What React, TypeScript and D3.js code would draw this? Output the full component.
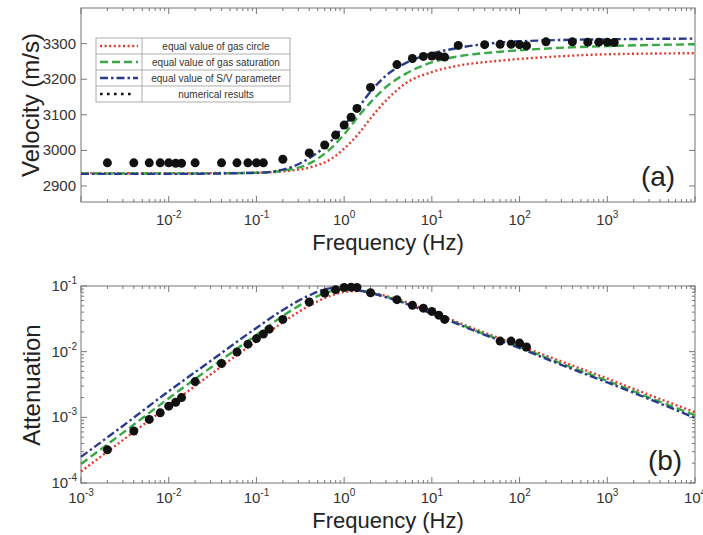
import React from 'react';
import * as d3 from 'd3';

// velocity curves (top panel)
const velFreq = [0.001, 0.01, 0.1, 0.2, 0.4, 0.7, 1, 1.5, 2, 3, 5, 10, 20, 60, 200, 1000, 10000];
const velCircle = [2936, 2936, 2937, 2941, 2952, 2975, 3005, 3050, 3090, 3140, 3188, 3220, 3238, 3252, 3262, 3270, 3273];
const velSaturation = [2935, 2935, 2937, 2943, 2963, 3005, 3045, 3100, 3135, 3178, 3215, 3247, 3264, 3277, 3286, 3293, 3298];
const velSV = [2934, 2934, 2937, 2946, 2978, 3025, 3070, 3125, 3165, 3210, 3245, 3272, 3288, 3303, 3309, 3312, 3314];

const velPtFreq = [0.002, 0.004, 0.006, 0.008, 0.01, 0.012, 0.014, 0.02, 0.04, 0.06, 0.08, 0.1, 0.12, 0.2, 0.4, 0.6, 0.8, 1, 1.2, 1.4, 2, 4, 6, 8, 10, 12, 14, 20, 40, 60, 80, 100, 120, 200, 400, 600, 800, 1000, 1200];
const velPtVal = [2965, 2965, 2965, 2965, 2965, 2964, 2964, 2965, 2965, 2965, 2965, 2965, 2965, 2975, 2993, 3015, 3043, 3071, 3093, 3118, 3177, 3241, 3258, 3264, 3265, 3265, 3262, 3295, 3297, 3298, 3298, 3297, 3294, 3305, 3305, 3304, 3304, 3304, 3303];

// attenuation curves (bottom panel)
const attFreq = [0.001, 0.003, 0.01, 0.03, 0.1, 0.2, 0.4, 0.7, 1, 1.5, 2, 4, 10, 30, 100, 300, 1000, 3000, 10000];
const attCircle = [1.5e-4, 4.5e-4, 1.5e-3, 4.5e-3, 0.0145, 0.028, 0.05, 0.071, 0.081, 0.084, 0.08, 0.063, 0.04, 0.0225, 0.0123, 0.0071, 0.0039, 0.0022, 0.0012];
const attSaturation = [1.95e-4, 5.8e-4, 1.95e-3, 5.7e-3, 0.018, 0.035, 0.061, 0.083, 0.089, 0.086, 0.079, 0.061, 0.039, 0.0215, 0.0117, 0.0066, 0.0036, 0.002, 0.00108];
const attSV = [2.5e-4, 7.4e-4, 2.5e-3, 7.2e-3, 0.023, 0.043, 0.072, 0.092, 0.093, 0.085, 0.078, 0.06, 0.038, 0.021, 0.0113, 0.0063, 0.0034, 0.0019, 0.00098];

const attPtFreq = [0.002, 0.004, 0.006, 0.008, 0.01, 0.012, 0.014, 0.02, 0.04, 0.06, 0.08, 0.1, 0.12, 0.14, 0.2, 0.4, 0.6, 0.8, 1, 1.2, 1.4, 2, 4, 6, 8, 10, 12, 14, 60, 80, 100, 120];
const attPtVal = [3.2e-4, 6.2e-4, 9.3e-4, 1.17e-3, 1.48e-3, 1.7e-3, 2.0e-3, 3.5e-3, 6.6e-3, 9.9e-3, 0.013, 0.0158, 0.0185, 0.022, 0.031, 0.057, 0.078, 0.088, 0.095, 0.096, 0.095, 0.079, 0.062, 0.051, 0.046, 0.041, 0.036, 0.031, 0.0145, 0.0145, 0.0135, 0.0118];

const velTicks = [2900, 3000, 3100, 3200, 3300];
const legendLabels = ['equal value of gas circle', 'equal value of gas saturation', 'equal value of S/V parameter', 'numerical results'];

const FONT = '"Liberation Sans", Arial, Helvetica, sans-serif';
const seriesStyle = [
  { color: '#e23b2e', dash: '2 2.6', width: 2.4 },
  { color: '#3aa845', dash: '8 4', width: 2.4 },
  { color: '#2b3b8c', dash: '8 3 2.5 3', width: 2.4 },
];

const L = 81, R = 695;
const x = d3.scaleLog().domain([1e-3, 1e4]).range([L, R]);
const yVel = d3.scaleLinear().domain([2855, 3400]).range([202, 8]);
const yAtt = d3.scaleLog().domain([1e-4, 1e-1]).range([483, 286]);

const decades = d3.range(-3, 5).map((e) => Math.pow(10, e));
const minorX = decades.slice(0, -1).flatMap((d) => d3.range(2, 10).map((k) => d * k));
const attDecades = [1e-4, 1e-3, 1e-2, 1e-1];
const minorY = attDecades.slice(0, -1).flatMap((d) => d3.range(2, 10).map((k) => d * k));

const Pow = ({ px, py, exp, anchor }: { px: number; py: number; exp: number; anchor: string }) => (
  <text x={px} y={py} textAnchor={anchor} fontSize={15} fill="#333">
    <tspan>10</tspan>
    <tspan dy={-7} fontSize={10}>{exp}</tspan>
  </text>
);

const lineFor = (freq: number[], yScale: any) =>
  d3.line<number>()
    .x((_, i) => x(freq[i]))
    .y((d) => yScale(d))
    .curve(d3.curveMonotoneX);

const App = () => {
  const top = { y0: 8, y1: 202 };
  const bot = { y0: 286, y1: 483 };
  const velSeries = [velCircle, velSaturation, velSV];
  const attSeries = [attCircle, attSaturation, attSV];
  const tc = '#777';

  const xTicks = (p: { y0: number; y1: number }) => (
    <g stroke={tc} strokeWidth={1}>
      {decades.map((d) => (
        <g key={'M' + d}>
          <line x1={x(d)} x2={x(d)} y1={p.y1} y2={p.y1 - 6} />
          <line x1={x(d)} x2={x(d)} y1={p.y0} y2={p.y0 + 6} />
        </g>
      ))}
      {minorX.map((d) => (
        <g key={'m' + d}>
          <line x1={x(d)} x2={x(d)} y1={p.y1} y2={p.y1 - 3} />
          <line x1={x(d)} x2={x(d)} y1={p.y0} y2={p.y0 + 3} />
        </g>
      ))}
    </g>
  );

  return (
    <div style={{ position: 'absolute', left: 0, top: 0 }}>
      <svg width={703} height={535} style={{ display: 'block', background: '#fff' }} fontFamily={FONT}>
        {/* ---------- top panel ---------- */}
        <rect x={L} y={top.y0} width={R - L} height={top.y1 - top.y0} fill="none" stroke={tc} />
        {xTicks(top)}
        <g stroke={tc}>
          {velTicks.map((v) => (
            <g key={v}>
              <line x1={L} x2={L + 6} y1={yVel(v)} y2={yVel(v)} />
              <line x1={R} x2={R - 6} y1={yVel(v)} y2={yVel(v)} />
            </g>
          ))}
        </g>
        {velTicks.map((v) => (
          <text key={v} x={76} y={yVel(v) + 5} textAnchor="end" fontSize={15} fill="#333">{v}</text>
        ))}
        {decades.slice(1, -1).map((d) => (
          <Pow key={d} px={x(d)} py={225} exp={Math.round(Math.log10(d))} anchor="middle" />
        ))}
        {velSeries.map((s, i) => (
          <path key={i} d={lineFor(velFreq, yVel)(s) || ''} fill="none" stroke={seriesStyle[i].color}
            strokeWidth={seriesStyle[i].width} strokeDasharray={seriesStyle[i].dash} />
        ))}
        {velPtFreq.map((f, i) => (
          <circle key={i} cx={x(f)} cy={yVel(velPtVal[i])} r={4.5} fill="#111" />
        ))}
        <text transform="translate(39,105) rotate(-90)" textAnchor="middle" fontSize={24} fill="#222">Velocity (m/s)</text>
        <text x={(L + R) / 2} y={250} textAnchor="middle" fontSize={22} fill="#222">Frequency (Hz)</text>
        <text x={658} y={186} textAnchor="middle" fontSize={28} fill="#222">(a)</text>

        {/* legend */}
        <g>
          <rect x={96} y={38} width={194} height={64} fill="#fff" stroke="#999" strokeWidth={0.8} />
          <line x1={142} x2={142} y1={38} y2={102} stroke="#999" strokeWidth={0.8} />
          {legendLabels.map((lab, i) => {
            const cy = 38 + 16 * i + 8;
            return (
              <g key={lab}>
                {i > 0 && <line x1={96} x2={290} y1={38 + 16 * i} y2={38 + 16 * i} stroke="#999" strokeWidth={0.8} />}
                {i < 3 ? (
                  <line x1={100} x2={138} y1={cy} y2={cy} stroke={seriesStyle[i].color}
                    strokeWidth={seriesStyle[i].width} strokeDasharray={seriesStyle[i].dash} />
                ) : (
                  <line x1={100} x2={135} y1={cy} y2={cy} stroke="#111" strokeWidth={2.6} strokeDasharray="2.6 4.4" />
                )}
                <text x={216} y={cy + 3.5} textAnchor="middle" fontSize={10} fill="#333">{lab}</text>
              </g>
            );
          })}
        </g>

        {/* ---------- bottom panel ---------- */}
        <rect x={L} y={bot.y0} width={R - L} height={bot.y1 - bot.y0} fill="none" stroke={tc} />
        {xTicks(bot)}
        <g stroke={tc}>
          {attDecades.map((d) => (
            <g key={'M' + d}>
              <line x1={L} x2={L + 6} y1={yAtt(d)} y2={yAtt(d)} />
              <line x1={R} x2={R - 6} y1={yAtt(d)} y2={yAtt(d)} />
            </g>
          ))}
          {minorY.map((d) => (
            <g key={'m' + d}>
              <line x1={L} x2={L + 3} y1={yAtt(d)} y2={yAtt(d)} />
              <line x1={R} x2={R - 3} y1={yAtt(d)} y2={yAtt(d)} />
            </g>
          ))}
        </g>
        {attDecades.map((d) => (
          <Pow key={d} px={77} py={yAtt(d) + 5} exp={Math.round(Math.log10(d))} anchor="end" />
        ))}
        {decades.map((d) => (
          <Pow key={d} px={x(d)} py={503} exp={Math.round(Math.log10(d))} anchor="middle" />
        ))}
        {attSeries.map((s, i) => (
          <path key={i} d={lineFor(attFreq, yAtt)(s) || ''} fill="none" stroke={seriesStyle[i].color}
            strokeWidth={seriesStyle[i].width} strokeDasharray={seriesStyle[i].dash} />
        ))}
        {attPtFreq.map((f, i) => (
          <circle key={i} cx={x(f)} cy={yAtt(attPtVal[i])} r={4.5} fill="#111" />
        ))}
        <text transform="translate(40,385) rotate(-90)" textAnchor="middle" fontSize={24} fill="#222">Attenuation</text>
        <text x={(L + R) / 2} y={528} textAnchor="middle" fontSize={22} fill="#222">Frequency (Hz)</text>
        <text x={665} y={470} textAnchor="middle" fontSize={28} fill="#222">(b)</text>
      </svg>
    </div>
  );
};

export default App;
